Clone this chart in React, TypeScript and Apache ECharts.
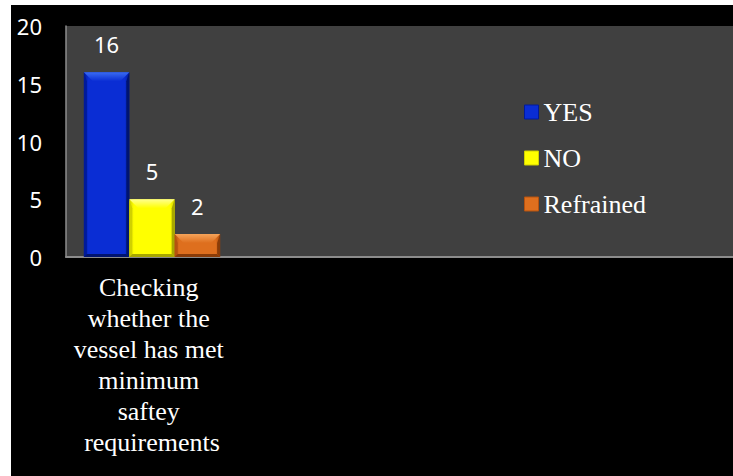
import React, { useEffect, useRef } from "react";
import * as echarts from "echarts";

const categories = [
  "Checking whether the vessel has met minimum saftey requirements",
];
const seriesNames = ["YES", "NO", "Refrained"];
const yesValues = [16];
const noValues = [5];
const refrainedValues = [2];
const seriesValues = [yesValues, noValues, refrainedValues];
const yTicks = { min: 0, max: 20, interval: 5 };

const palettes = [
  { main: "#0a2dd4", light: "#3a6cf2", edge: "#001a9a", dark: "#001470" },
  { main: "#ffff00", light: "#ffff90", edge: "#d0d000", dark: "#a8a800" },
  { main: "#de6f1e", light: "#f6a45a", edge: "#b5520f", dark: "#8a3c08" },
];

const GRID = { left: 55, top: 21, width: 172, bottom: 219 };
const W = 722;
const H = 471;

export default function App() {
  const ref = useRef<HTMLDivElement>(null);
  useEffect(() => {
    if (!ref.current) return;
    const chart = echarts.init(ref.current, undefined, { renderer: "svg" });
    const series = seriesNames.map((name, idx) => {
      const p = palettes[idx];
      return {
        name,
        type: "custom",
        itemStyle: { color: p.main },
        data: seriesValues[idx].map((v, i) => [i, v]),
        renderItem: (params: any, api: any) => {
          const ci = api.value(0);
          const val = api.value(1);
          const base = api.coord([ci, 0]);
          const top = api.coord([ci, val]);
          const band = api.size([1, 0])[0];
          const barW = band * 0.264;
          const x0 = base[0] - 1.5 * barW + idx * barW;
          const x1 = x0 + barW;
          const yt = top[1];
          const yb = base[1];
          const h = yb - yt;
          const b = Math.min(9, h / 2.5);
          const s = 3;
          return {
            type: "group",
            children: [
              {
                type: "rect",
                shape: { x: x0, y: yt, width: barW, height: h },
                style: {
                  fill: new echarts.graphic.LinearGradient(0, 0, 1, 0, [
                    { offset: 0, color: p.edge },
                    { offset: 0.1, color: p.main },
                    { offset: 0.9, color: p.main },
                    { offset: 1, color: p.edge },
                  ]),
                },
              },
              {
                type: "polygon",
                shape: {
                  points: [
                    [x0, yt],
                    [x0 + s, yt + b],
                    [x0 + s, yb - s],
                    [x0, yb],
                  ],
                },
                style: { fill: p.edge },
              },
              {
                type: "polygon",
                shape: {
                  points: [
                    [x1, yt],
                    [x1 - s, yt + b],
                    [x1 - s, yb - s],
                    [x1, yb],
                  ],
                },
                style: { fill: p.dark },
              },
              {
                type: "polygon",
                shape: {
                  points: [
                    [x0, yb],
                    [x0 + s, yb - s],
                    [x1 - s, yb - s],
                    [x1, yb],
                  ],
                },
                style: { fill: p.dark },
              },
              {
                type: "polygon",
                shape: {
                  points: [
                    [x0, yt],
                    [x1, yt],
                    [x1 - b, yt + b],
                    [x0 + b, yt + b],
                  ],
                },
                style: {
                  fill: new echarts.graphic.LinearGradient(0, 0, 0, 1, [
                    { offset: 0, color: p.light },
                    { offset: 1, color: p.main },
                  ]),
                },
              },
              {
                type: "text",
                x: (x0 + x1) / 2,
                y: yt - 28,
                style: {
                  text: String(val),
                  fill: "#ffffff",
                  fontSize: 22,
                  fontFamily: "Noto Sans",
                  align: "center",
                  verticalAlign: "middle",
                },
              },
            ],
          };
        },
      };
    });

    const plotBottom = H - GRID.bottom;

    chart.setOption({
      animation: false,
      backgroundColor: "#000000",
      graphic: [
        {
          type: "rect",
          z: -10,
          silent: true,
          shape: {
            x: GRID.left,
            y: GRID.top,
            width: W - GRID.left,
            height: plotBottom - GRID.top,
          },
          style: { fill: "#404040" },
        },
        {
          type: "line",
          z: -5,
          silent: true,
          shape: {
            x1: GRID.left,
            y1: plotBottom,
            x2: W,
            y2: plotBottom,
          },
          style: { stroke: "#8c8c8c", lineWidth: 2 },
        },
      ],
      grid: {
        left: GRID.left,
        top: GRID.top,
        width: GRID.width,
        bottom: GRID.bottom,
        show: false,
      },
      legend: {
        orient: "vertical",
        left: 513,
        top: 94,
        padding: 0,
        itemWidth: 14,
        itemHeight: 14,
        itemGap: 20,
        icon: "rect",
        textStyle: {
          color: "#ffffff",
          fontFamily: "Liberation Serif",
          fontSize: 26,
        },
        data: seriesNames.map((n, i) => ({
          name: n,
          itemStyle: {
            color: palettes[i].main,
            borderColor: palettes[i].edge,
            borderWidth: 1,
          },
        })),
      },
      xAxis: {
        type: "category",
        data: categories,
        axisLine: { show: true, lineStyle: { color: "#8c8c8c", width: 2 } },
        axisTick: { show: false },
        axisLabel: {
          interval: 0,
          margin: 15,
          color: "#ffffff",
          fontFamily: "Liberation Serif",
          fontSize: 26,
          lineHeight: 31,
          width: 160,
          overflow: "break",
          align: "center",
        },
        splitLine: { show: false },
      },
      yAxis: {
        type: "value",
        min: yTicks.min,
        max: yTicks.max,
        interval: yTicks.interval,
        axisLine: { show: true, lineStyle: { color: "#8c8c8c", width: 1.5 } },
        axisTick: { show: false },
        splitLine: { show: false },
        axisLabel: {
          color: "#ffffff",
          fontFamily: "Noto Sans",
          fontSize: 22,
          margin: 24,
        },
      },
      series,
    });
    return () => chart.dispose();
  }, []);
  return (
    <div
      ref={ref}
      style={{
        position: "fixed",
        left: 11,
        top: 5,
        width: W,
        height: H,
        background: "#000",
      }}
    />
  );
}
